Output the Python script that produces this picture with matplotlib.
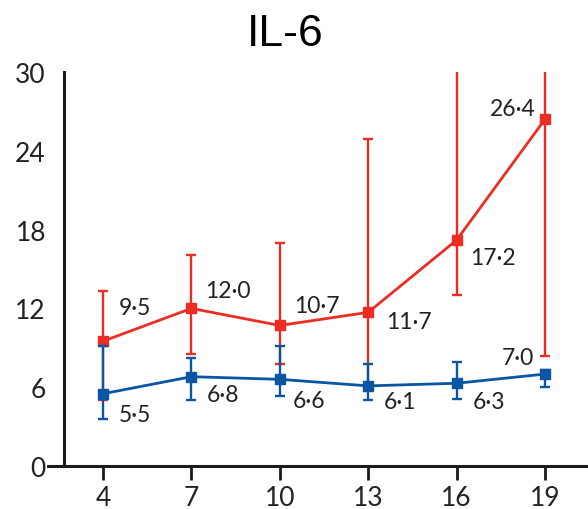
import matplotlib.pyplot as plt

# Values
days = [4, 7, 10, 13, 16, 19]
red_vals = [9.5, 12.0, 10.7, 11.7, 17.2, 26.4]
red_hi = [13.3, 16.1, 17.0, 24.9, 34.0, 36.0]
red_lo = [5.0, 8.5, 7.8, 6.2, 13.0, 8.4]
blue_vals = [5.5, 6.8, 6.6, 6.1, 6.3, 7.0]
blue_hi = [9.1, 8.2, 9.1, 7.8, 7.9, 7.3]
blue_lo = [3.6, 5.0, 5.3, 5.0, 5.1, 6.0]
red_labels = ['9·5', '12·0', '10·7', '11·7', '17·2', '26·4']
blue_labels = ['5·5', '6·8', '6·6', '6·1', '6·3', '7·0']
y_ticks = [0, 6, 12, 18, 24, 30]

# label offsets in pixels
red_off = [(32, 34), (36, 18), (37, 20), (41, -9), (36, -17), (-32, 11)]
blue_off = [(32, -21), (32, -18), (29, -21), (32, -16), (32, -18), (-27, 17)]

red = '#EC2D24'
blue = '#0B56A4'
font = 'Lato'

fig = plt.figure(figsize=(5.88, 5.10), dpi=100)
ax = fig.add_axes([48 / 588, (510 - 467) / 510, 540 / 588, 394 / 510])

ax.errorbar(days, red_vals,
            yerr=[[v - l for v, l in zip(red_vals, red_lo)],
                  [h - v for v, h in zip(red_vals, red_hi)]],
            color=red, lw=2, marker='s', ms=7.5, elinewidth=1.7,
            capsize=3.5, capthick=1.7, zorder=3)
ax.errorbar(days, blue_vals,
            yerr=[[v - l for v, l in zip(blue_vals, blue_lo)],
                  [h - v for v, h in zip(blue_vals, blue_hi)]],
            color=blue, lw=2, marker='s', ms=7.5, elinewidth=1.7,
            capsize=3.5, capthick=1.7, zorder=4)

for x, v, t, o in zip(days, red_vals, red_labels, red_off):
    ax.annotate(t, (x, v), xytext=o, textcoords='offset pixels',
                ha='center', va='center', fontsize=16.5, family=font, color='#222222')
for x, v, t, o in zip(days, blue_vals, blue_labels, blue_off):
    ax.annotate(t, (x, v), xytext=o, textcoords='offset pixels',
                ha='center', va='center', fontsize=16.5, family=font, color='#222222')

ax.set_xlim(2.134, 20.46)
ax.set_ylim(0, 30)
ax.spines['top'].set_visible(False)
ax.spines['right'].set_visible(False)
ax.spines['left'].set_position(('data', 2.677))
for s in ['left', 'bottom']:
    ax.spines[s].set_linewidth(2.2)
    ax.spines[s].set_color('#1a1a1a')

ax.set_xticks(days)
ax.set_yticks(y_ticks)
ax.tick_params(axis='x', length=10, width=2, color='#1a1a1a', pad=4)
ax.tick_params(axis='y', length=0, pad=13)
for lab in ax.get_xticklabels() + ax.get_yticklabels():
    lab.set_family(font)
    lab.set_fontsize(19)
    lab.set_color('#222222')

fig.text(285 / 588, 1 - 35 / 510, 'IL-6', ha='center', va='center',
         fontsize=32, family='Liberation Sans')

fig.savefig('out.png', dpi=100)
